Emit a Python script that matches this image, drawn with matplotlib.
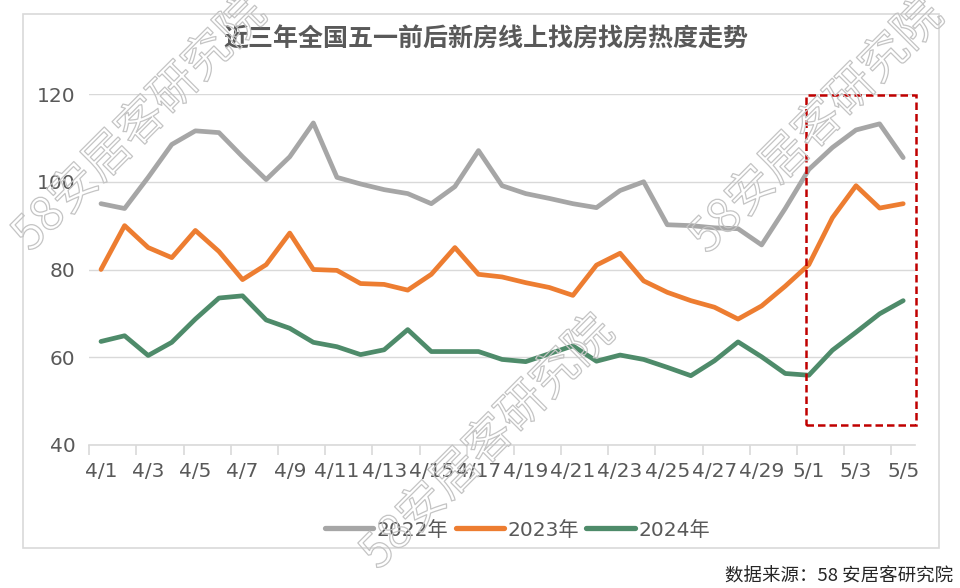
import matplotlib
matplotlib.use("Agg")
import matplotlib.pyplot as plt
from matplotlib.patches import Rectangle
from matplotlib import patheffects as pe

plt.rcParams['font.family'] = ['DejaVu Sans', 'Noto Sans CJK SC']

dates = ['4/1', '4/2', '4/3', '4/4', '4/5', '4/6', '4/7', '4/8', '4/9', '4/10',
         '4/11', '4/12', '4/13', '4/14', '4/15', '4/16', '4/17', '4/18', '4/19', '4/20',
         '4/21', '4/22', '4/23', '4/24', '4/25', '4/26', '4/27', '4/28', '4/29', '4/30',
         '5/1', '5/2', '5/3', '5/4', '5/5']

y2022 = [95.0, 93.9, 101.0, 108.5, 111.6, 111.2, 105.7, 100.5, 105.7, 113.4,
         101.0, 99.5, 98.2, 97.3, 95.0, 98.9, 107.1, 99.1, 97.3, 96.2,
         95.0, 94.1, 98.0, 100.0, 90.2, 90.0, 89.5, 89.3, 85.6, 93.9,
         102.8, 107.8, 111.8, 113.2, 105.5]

y2023 = [80.0, 90.0, 85.0, 82.7, 88.9, 84.1, 77.7, 81.1, 88.3, 80.0,
         79.8, 76.8, 76.6, 75.3, 78.9, 85.0, 78.9, 78.3, 77.0, 75.9,
         74.1, 81.0, 83.7, 77.4, 74.8, 72.9, 71.4, 68.7, 71.7, 76.2,
         81.1, 91.8, 99.1, 94.0, 95.0]

y2024 = [63.6, 64.9, 60.4, 63.4, 68.7, 73.5, 74.0, 68.5, 66.6, 63.4,
         62.4, 60.6, 61.7, 66.3, 61.3, 61.3, 61.3, 59.5, 59.0, 60.8,
         62.6, 59.1, 60.5, 59.5, 57.7, 55.8, 59.2, 63.5, 60.1, 56.3,
         55.9, 61.6, 65.7, 69.9, 72.9]

series_names = ['2022年', '2023年', '2024年']
series_colors = ['#A6A6A6', '#ED7D31', '#4E8B6A']
y_ticks = [40, 60, 80, 100, 120]

title = '近三年全国五一前后新房线上找房找房热度走势'
source = '数据来源：58 安居客研究院'
watermark = '58安居客研究院'

W, H = 960, 588
fig = plt.figure(figsize=(W / 100, H / 100), dpi=100)

def fx(px):
    return px / W

def fy(py):
    return 1 - py / H

# outer frame
fig.patches.append(Rectangle((fx(23), fy(548)), fx(939) - fx(23), fy(14) - fy(548),
                             transform=fig.transFigure, fill=False,
                             edgecolor='#D9D9D9', linewidth=1.2, zorder=0))

ax = fig.add_axes([fx(89.2), fy(445), fx(915) - fx(89.2), fy(94) - fy(445)])
ax.set_facecolor('none')
x = list(range(len(dates)))
for vals, name, col in zip([y2022, y2023, y2024], series_names, series_colors):
    ax.plot(x, vals, color=col, linewidth=3.4, label=name, solid_joinstyle='round',
            solid_capstyle='round', zorder=3)

ax.set_xlim(-0.5, len(dates) - 0.5)
ax.set_ylim(40, 120)
ax.set_yticks(y_ticks)
ax.yaxis.grid(True, color='#D9D9D9', linewidth=1.0)
ax.set_axisbelow(True)
for s in ['left', 'top', 'right']:
    ax.spines[s].set_visible(False)
ax.spines['bottom'].set_color('#D9D9D9')
ax.spines['bottom'].set_linewidth(1.2)
ax.tick_params(axis='y', length=0, pad=10, labelsize=14.5, labelcolor='#595959')

ax.set_xticks(x[::2])
ax.set_xticklabels(dates[::2])
ax.set_xticks([i - 0.5 for i in x[::2]], minor=True)
ax.tick_params(axis='x', which='major', length=0, pad=12, labelsize=14.5, labelcolor='#595959')
ax.tick_params(axis='x', which='minor', length=7, width=1.2, color='#D9D9D9')

# red dashed highlight box
ax.add_patch(Rectangle((29.9, 44.6), 34.53 - 29.9, 119.8 - 44.6, fill=False,
                       edgecolor='#C00000', linewidth=1.8, linestyle=(0, (3, 1.6)),
                       clip_on=False, zorder=5))

fig.text(fx(485.5), fy(40), title, ha='center', va='center', fontsize=18,
         fontweight='bold', color='#595959', family=['Noto Sans CJK SC', 'DejaVu Sans'])

leg = fig.legend(loc='center', bbox_to_anchor=(fx(517.5), fy(530)), ncol=3,
                 frameon=False, fontsize=14.5, handlelength=2.4, handletextpad=0.2,
                 columnspacing=0.35)
for t in leg.get_texts():
    t.set_color('#595959')
for l in leg.get_lines():
    l.set_linewidth(3.8)

fig.text(fx(953), fy(577), source, ha='right', va='center', fontsize=13.3,
         color='#262626', family=['Noto Sans CJK SC', 'DejaVu Sans'])

# watermarks
for cx, cy in [(140, 125), (488, 443), (817, 127)]:
    fig.text(fx(cx), fy(cy), watermark, ha='center', va='center', rotation=45,
             rotation_mode='anchor', fontsize=34, color=(1, 1, 1, 0),
             family=['Noto Sans CJK SC', 'DejaVu Sans'], zorder=10,
             path_effects=[pe.Stroke(linewidth=0.9, foreground='#C4C4C4')])

fig.savefig('out.png', dpi=100)
